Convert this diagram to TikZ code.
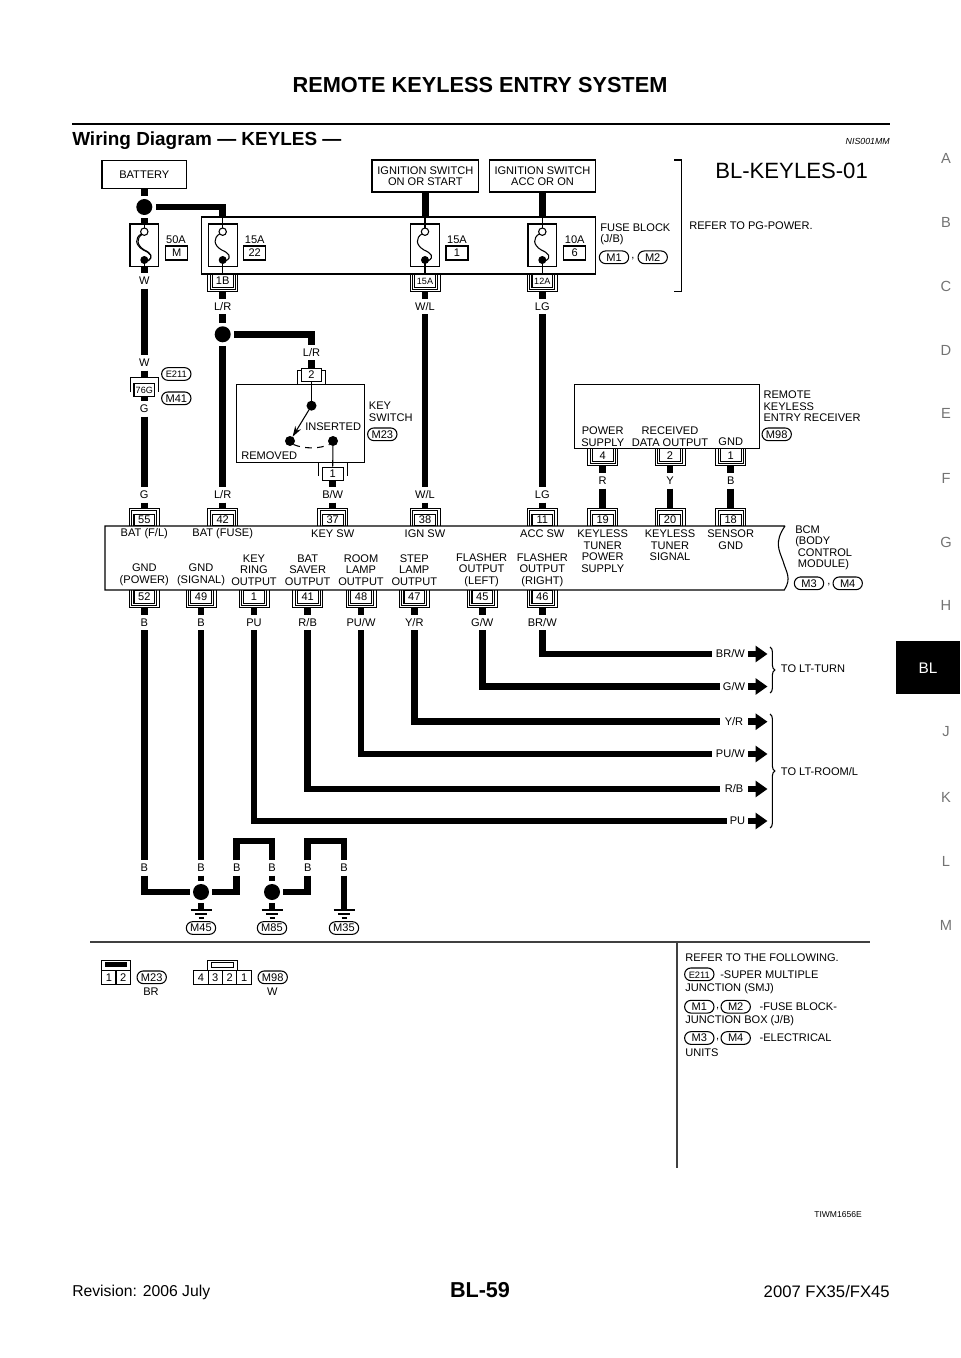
\documentclass[tikz,border=0pt]{standalone}
\usepackage{fontspec}
\setmainfont{Liberation Sans}
\usetikzlibrary{arrows.meta,decorations.pathreplacing}

\tikzset{
	txt/.style={font=\fontsize{8.3}{8.6}\selectfont,inner sep=0pt,align=center},
	ltxt/.style={txt,anchor=west,align=left},
	wlbl/.style={txt,minimum height=10.9pt,text height=5.9pt,text depth=0pt},
	boxed/.style={txt,draw,line width=0.8pt,text height=5.9pt,text depth=0pt},
	pinbox/.style={boxed,fill=white,minimum width=15.5pt},
	ampbox/.style={boxed,minimum width=16.5pt,minimum height=10.5pt},
	fusebox/.style={draw,line width=0.8pt,minimum width=21.5pt,minimum height=32.2pt,inner sep=0pt},
	harn/.style={boxed,rounded corners=4.7pt,minimum width=22pt,minimum height=9.5pt},
	brk/.style={line width=0.7pt},
	hair/.style={line width=0.8pt},
	wire/.style={line width=4.9pt},
	arr/.style={wire,-{Triangle[length=9pt,width=12pt]}},
	dot/.style={circle,fill=black,inner sep=0pt,minimum size=12pt,outer sep=2.6pt},
	swdot/.style={circle,fill=black,inner sep=0pt,minimum size=7.5pt,outer sep=0pt},
}

\def\topconn#1#2#3#4{
	\draw[brk,shift={(#2,#3)}] (-15,0) |- (15,-18) -- (15,0);
	\draw[brk,shift={(#2,#3)}] (-12.5,0) |- (12.5,-15.5) -- (12.5,0);
	\node[pinbox,anchor=south,minimum height=8.25pt] (#1) at (#2,#3) {#4};
	\coordinate (#1t) at (#2,#3-18);
}
\def\botconn#1#2#3#4{
	\draw[brk,shift={(#2,#3)}] (-15,0) |- (15,17.5) -- (15,0);
	\draw[brk,shift={(#2,#3)}] (-12.5,0) |- (12.5,15) -- (12.5,0);
	\node[pinbox,anchor=north,minimum height=9.75pt] (#1) at (#2,#3) {#4};
	\coordinate (#1b) at (#2,#3+17.5);
}
\def\swconn#1#2#3#4#5#6{
	\draw[brk] (#2-14.3,#5) |- (#2+14.3,#4) -- (#2+14.3,#5);
	\node[pinbox,anchor=north,minimum height=9.75pt] (#1) at (#2,#3) {#6};
}
\def\fuselink#1#2{
	\node[fusebox] (#1) at (#2,245.5) {};
	\draw[hair] (#2,224) -- (#2,228);
	\draw[hair] (#2,231.7) circle (3.7);
	\draw[hair] (#2,260) -- (#2,267);
	\fill (#2,260) circle (4);
	\draw[hair] (#2-3,233.8) .. controls (#2-9.5,238) and (#2-9.5,245) .. (#2-1,250) .. controls (#2+6,253) and (#2+10,257) .. (#2+3,261);
}
\def\earth#1#2{
	\coordinate (#1) at (#2,910);
	\draw[line width=1pt] (#2-10.5,910) -- (#2+10.5,910);
	\draw[line width=1pt] (#2-6,914) -- (#2+6,914);
	\draw[line width=1pt] (#2-2.5,918) -- (#2+2.5,918);
}
\def\wireend#1#2#3#4#5{
	\node[txt,text height=5.9pt,text depth=0pt,minimum width=#4*0.75pt] (#1) at (#2,#3) {#5};
	\coordinate (#1a) at (767.5,#3);
	\draw[arr] (#1.east) -- (#1a);
}

\begin{document}
\begin{tikzpicture}[x=0.75pt,y=-0.75pt]
		%%%%% START %%%%%
		\useasboundingbox (0,0) rectangle (960,1358);
		
		\node[inner sep=0pt,font=\bfseries\fontsize{16.3}{18}\selectfont] (pagehead) at (480,85) {REMOTE KEYLESS ENTRY SYSTEM};
		\draw[line width=2pt] (72,124) -- (890,124);
		\node[inner sep=0pt,anchor=west,font=\bfseries\fontsize{14.2}{16}\selectfont] (wdhead) at (72,141) {Wiring Diagram — KEYLES —};
		\node[inner sep=0pt,anchor=east,font=\itshape\fontsize{6.6}{8}\selectfont] (nishead) at (890,141) {NIS001MM};
		\node[inner sep=0pt,anchor=west,font=\fontsize{16.6}{18}\selectfont] (sheet) at (715,171) {BL-KEYLES-01};
		
		% side index
		\node[txt,font=\fontsize{11}{12}\selectfont,text=black!55] (tabA) at (946,158) {A};
		\node[txt,font=\fontsize{11}{12}\selectfont,text=black!55] (tabB) at (946,222) {B};
		\node[txt,font=\fontsize{11}{12}\selectfont,text=black!55] (tabC) at (946,286) {C};
		\node[txt,font=\fontsize{11}{12}\selectfont,text=black!55] (tabD) at (946,350) {D};
		\node[txt,font=\fontsize{11}{12}\selectfont,text=black!55] (tabE) at (946,413) {E};
		\node[txt,font=\fontsize{11}{12}\selectfont,text=black!55] (tabF) at (946,478) {F};
		\node[txt,font=\fontsize{11}{12}\selectfont,text=black!55] (tabG) at (946,542) {G};
		\node[txt,font=\fontsize{11}{12}\selectfont,text=black!55] (tabH) at (946,605) {H};
		\fill[black] (896,641) rectangle (960,694);
		\node[txt,font=\fontsize{11.5}{12}\selectfont,text=white] (tabBL) at (928,668) {BL};
		\node[txt,font=\fontsize{11}{12}\selectfont,text=black!55] (tabJ) at (946,732) {J};
		\node[txt,font=\fontsize{11}{12}\selectfont,text=black!55] (tabK) at (946,797) {K};
		\node[txt,font=\fontsize{11}{12}\selectfont,text=black!55] (tabL) at (946,861) {L};
		\node[txt,font=\fontsize{11}{12}\selectfont,text=black!55] (tabM) at (946,925) {M};
		
		% supplies
		\node[boxed,minimum width=63.5pt,minimum height=21.5pt] (battery) at (144.3,174.5) {BATTERY};
		\node[boxed,minimum width=80pt,minimum height=24pt,text height=,text depth=] (ignA) at (425.3,176) {IGNITION SWITCH\\ON OR START};
		\node[boxed,minimum width=80pt,minimum height=24pt,text height=,text depth=] (ignB) at (542.5,176) {IGNITION SWITCH\\ACC OR ON};
		
		% fuse block
		\node[draw,line width=0.8pt,minimum width=296pt,minimum height=42.75pt,inner sep=0pt] (fuseblk) at (398.5,245.5) {};
		\fuselink{fuseM}{144.3}
		\draw[hair] (142.3,234.3) .. controls (136.3,238) and (136.3,245) .. (144.3,250) .. controls (151.3,253) and (153.3,257) .. (148.3,261);
		\fuselink{fuse22}{222.7}
		\fuselink{fuse1}{425}
		\fuselink{fuse6}{542.3}
		\node[txt] (amp50) at (176,239.3) {50A};
		\node[ampbox] (ampM) at (176.7,253) {M};
		\node[txt] (amp15a) at (254.7,239.3) {15A};
		\node[ampbox] (amp22) at (254.7,253) {22};
		\node[txt] (amp15b) at (457,239.3) {15A};
		\node[ampbox] (amp1) at (457,253) {1};
		\node[txt] (amp10) at (574.7,239.3) {10A};
		\node[ampbox] (amp6) at (574.7,253) {6};
		\botconn{c1B}{222.7}{274}{1B}
		\botconn{c15A}{425}{274}{\fontsize{6.8}{7}\selectfont 15A}
		\botconn{c12A}{542.3}{274}{\fontsize{6.8}{7}\selectfont 12A}
		\draw[hair] (fuseblk.north -| fuse22) -- (fuse22.north);
		\draw[hair] (fuse22.south) -- (fuse22.south |- fuseblk.south);
		\draw[hair] (fuseblk.north -| fuse1) -- (fuse1.north);
		\draw[hair] (fuse1.south) -- (fuse1.south |- fuseblk.south);
		\draw[hair] (fuseblk.north -| fuse6) -- (fuse6.north);
		\draw[hair] (fuse6.south) -- (fuse6.south |- fuseblk.south);
		
		\node[ltxt] (fbname) at (600,234.2) {FUSE BLOCK\\(J/B)};
		\node[harn] (hM1a) at (614,257.3) {M1};
		\node[txt] (cmA) at (633,259) {,};
		\node[harn] (hM2a) at (652.7,257.3) {M2};
		\draw[line width=1pt] (674,160) -- (681.3,160) -- (681.3,291.7) -- (674,291.7);
		\node[ltxt] (refpg) at (689,225.7) {REFER TO PG-POWER.};
		
		% key switch
		\node[draw,line width=0.8pt,minimum width=96pt,minimum height=58.7pt,inner sep=0pt] (keysw) at (300.8,423.2) {};
		\swconn{c2}{311.5}{368}{370}{384}{2}
		\swconn{c1}{332.7}{466.7}{462.3}{476}{1}
		\node[swdot] (swA) at (311.5,405.7) {};
		\node[swdot] (swB) at (290,441) {};
		\node[swdot] (swC) at (333,441) {};
		\draw[hair] (c2.south) -- (swA);
		\draw[hair] (swC) -- (c1.north);
		\draw[hair,-{Stealth[length=8pt,width=5pt]}] (swA) -- (swB);
		\draw[hair,dash pattern=on 5pt off 4pt] (swB.south east) .. controls (304,449) and (319,449) .. (swC.south west);
		\node[ltxt] (swin) at (305,427) {INSERTED};
		\node[ltxt] (swrem) at (241,455.7) {REMOVED};
		\node[ltxt] (swname) at (368.7,411.7) {KEY\\SWITCH};
		\node[harn] (hM23) at (382.3,434.3) {M23};
		
		% receiver
		\node[draw,line width=0.8pt,minimum width=138.7pt,minimum height=48.2pt,inner sep=0pt] (recv) at (666.8,416.2) {};
		\node[txt] (rxA) at (602.7,436.5) {POWER\\SUPPLY};
		\node[txt] (rxB) at (670,436.5) {RECEIVED\\DATA OUTPUT};
		\node[txt] (rxC) at (730.7,442) {GND};
		\node[ltxt] (rxname) at (763.3,406.5) {REMOTE\\KEYLESS\\ENTRY RECEIVER};
		\node[harn] (hM98) at (776.7,434.3) {M98};
		\botconn{c4}{602.7}{448.3}{4}
		\botconn{c2r}{670}{448.3}{2}
		\botconn{c1r}{730.7}{448.3}{1}
		
		% bcm
		\draw[line width=0.8pt] (785,526) -- (105,526) -- (105,590) -- (784.3,590) .. controls (792,578) and (786,572) .. (783,561) .. controls (779,550) and (774,542) .. (785,526);
		\topconn{c55}{144.3}{526}{55}
		\topconn{c42}{222.7}{526}{42}
		\topconn{c37}{332.7}{526}{37}
		\topconn{c38}{425}{526}{38}
		\topconn{c11}{542.3}{526}{11}
		\topconn{c19}{602.7}{526}{19}
		\topconn{c20}{670}{526}{20}
		\topconn{c18}{730.7}{526}{18}
		\botconn{c52}{144.3}{590}{52}
		\botconn{c49}{201}{590}{49}
		\botconn{c1k}{254}{590}{1}
		\botconn{c41}{307.7}{590}{41}
		\botconn{c48}{361}{590}{48}
		\botconn{c47}{414.3}{590}{47}
		\botconn{c45}{482.3}{590}{45}
		\botconn{c46}{542.3}{590}{46}
		
		\node[txt] (bA) at (144.3,534) {BAT (F/L)};
		\node[txt] (bB) at (222.7,534) {BAT (FUSE)};
		\node[txt] (bC) at (332.7,534) {KEY SW};
		\node[txt] (bD) at (425,534) {IGN SW};
		\node[txt] (bE) at (542.3,534) {ACC SW};
		\node[txt] (bF) at (602.7,551) {KEYLESS\\TUNER\\POWER\\SUPPLY};
		\node[txt] (bG) at (670,545.5) {KEYLESS\\TUNER\\SIGNAL};
		\node[txt] (bH) at (730.7,539.5) {SENSOR\\GND};
		\node[txt] (bI) at (144.3,575) {GND\\(POWER)};
		\node[txt] (bJ) at (201,575) {GND\\(SIGNAL)};
		\node[txt] (bK) at (254,570) {KEY\\RING\\OUTPUT};
		\node[txt] (bL) at (307.7,570) {BAT\\SAVER\\OUTPUT};
		\node[txt] (bM) at (361,570) {ROOM\\LAMP\\OUTPUT};
		\node[txt] (bN) at (414.3,570) {STEP\\LAMP\\OUTPUT};
		\node[txt] (bO) at (481.7,570) {FLASHER\\OUTPUT\\(LEFT)};
		\node[txt] (bP) at (542.3,570) {FLASHER\\OUTPUT\\(RIGHT)};
		\node[ltxt] (bname) at (795,548) {BCM\\(BODY\\\hspace*{2pt}CONTROL\\\hspace*{2pt}MODULE)};
		\node[harn] (hM3a) at (809,583.3) {M3};
		\node[txt] (cmB) at (829,585) {,};
		\node[harn] (hM4a) at (847.7,583.3) {M4};
		
		% supply wires
		\node[dot] (dotA) at (144.3,207) {};
		\node[wlbl] (wW1) at (144.3,281) {W};
		\node[wlbl] (wW2) at (144.3,363) {W};
		\swconn{c76}{144.3}{382.7}{377.3}{392}{\fontsize{6.8}{7}\selectfont 76G}
		\node[harn,font=\fontsize{7}{8}\selectfont] (hE211) at (176.3,374) {E211};
		\node[harn] (hM41) at (176.3,398.3) {M41};
		\node[wlbl] (wG1) at (144.3,409) {G};
		\node[wlbl] (wG2) at (144.3,495) {G};
		\draw[wire] (battery.south) -- (dotA.north);
		\draw[wire] (dotA.south) -- (fuseM.north);
		\draw[wire] (fuseM.south) -- (wW1.north);
		\draw[wire] (wW1.south) -- (wW2.north);
		\draw[wire] (wW2.south) -- (c76 |- 0,377.3);
		\draw[wire] (c76.south) -- (wG1.north);
		\draw[wire] (wG1.south) -- (wG2.north);
		\draw[wire] (wG2.south) -- (c55t);
		
		\node[wlbl] (wLR1) at (222.7,306.7) {L/R};
		\node[dot] (dotB) at (222.7,334.3) {};
		\node[wlbl] (wLR2) at (311.5,352.5) {L/R};
		\node[wlbl] (wLR3) at (222.7,495) {L/R};
		\draw[wire] (dotA.east) -| (fuseblk.north -| fuse22);
		\draw[wire] (c1Bb) -- (wLR1.north);
		\draw[wire] (wLR1.south) -- (dotB.north);
		\draw[wire] (dotB.east) -| (wLR2.north);
		\draw[wire] (wLR2.south) -- (c2.north);
		\draw[wire] (dotB.south) -- (wLR3.north);
		\draw[wire] (wLR3.south) -- (c42t);
		
		\node[wlbl] (wBW) at (332.7,495) {B/W};
		\draw[wire] (c1.south) -- (wBW.north);
		\draw[wire] (wBW.south) -- (c37t);
		
		\node[wlbl] (wWL1) at (425,306.7) {W/L};
		\node[wlbl] (wWL2) at (425,495) {W/L};
		\draw[wire] (ignA.south) -- (fuseblk.north -| ignA);
		\draw[wire] (c15Ab) -- (wWL1.north);
		\draw[wire] (wWL1.south) -- (wWL2.north);
		\draw[wire] (wWL2.south) -- (c38t);
		
		\node[wlbl] (wLG1) at (542.3,306.7) {LG};
		\node[wlbl] (wLG2) at (542.3,495) {LG};
		\draw[wire] (ignB.south) -- (fuseblk.north -| ignB);
		\draw[wire] (c12Ab) -- (wLG1.north);
		\draw[wire] (wLG1.south) -- (wLG2.north);
		\draw[wire] (wLG2.south) -- (c11t);
		
		\node[wlbl] (wR) at (602.7,481) {R};
		\node[wlbl] (wY) at (670,481) {Y};
		\node[wlbl] (wB) at (730.7,481) {B};
		\draw[wire] (c4b) -- (wR.north);
		\draw[wire] (wR.south) -- (c19t);
		\draw[wire] (c2rb) -- (wY.north);
		\draw[wire] (wY.south) -- (c20t);
		\draw[wire] (c1rb) -- (wB.north);
		\draw[wire] (wB.south) -- (c18t);
		
		% outputs
		\node[wlbl] (wB52) at (144.3,622.7) {B};
		\node[wlbl] (wB49) at (201,622.7) {B};
		\node[wlbl] (wPU) at (254,622.7) {PU};
		\node[wlbl] (wRB) at (307.7,622.7) {R/B};
		\node[wlbl] (wPUW) at (361,622.7) {PU/W};
		\node[wlbl] (wYR) at (414.3,622.7) {Y/R};
		\node[wlbl] (wGW) at (482.3,622.7) {G/W};
		\node[wlbl] (wBRW) at (542.3,622.7) {BR/W};
		\draw[wire] (c52b) -- (wB52.north);
		\draw[wire] (c49b) -- (wB49.north);
		\draw[wire] (c1kb) -- (wPU.north);
		\draw[wire] (c41b) -- (wRB.north);
		\draw[wire] (c48b) -- (wPUW.north);
		\draw[wire] (c47b) -- (wYR.north);
		\draw[wire] (c45b) -- (wGW.north);
		\draw[wire] (c46b) -- (wBRW.north);
		
		\wireend{eBRW}{730.4}{654}{35.3}{BR/W}
		\wireend{eGW}{734}{686.5}{28}{G/W}
		\wireend{eYR}{734}{721.7}{28}{Y/R}
		\wireend{ePUW}{730.4}{754}{35.3}{PU/W}
		\wireend{eRB}{734}{789}{28}{R/B}
		\wireend{ePU}{737.5}{821}{21}{PU}
		\draw[wire] (wBRW.south) |- (eBRW.west);
		\draw[wire] (wGW.south) |- (eGW.west);
		\draw[wire] (wYR.south) |- (eYR.west);
		\draw[wire] (wPUW.south) |- (ePUW.west);
		\draw[wire] (wRB.south) |- (eRB.west);
		\draw[wire] (wPU.south) |- (ePU.west);
		
		\draw[hair,decorate,decoration={brace,amplitude=3.6pt}] (770,647) -- (770,693);
		\draw[hair,decorate,decoration={brace,amplitude=3.6pt}] (770,714) -- (770,828);
		\node[ltxt] (toturn) at (780.7,669) {TO LT-TURN};
		\node[ltxt] (toroom) at (780.7,772) {TO LT-ROOM/L};
		
		% grounds
		\node[wlbl] (gB1) at (144.3,868) {B};
		\node[wlbl] (gB2) at (201,868) {B};
		\node[wlbl] (gB3) at (236.7,868) {B};
		\node[wlbl] (gB4) at (272,868) {B};
		\node[wlbl] (gB5) at (307.7,868) {B};
		\node[wlbl] (gB6) at (344,868) {B};
		\node[dot] (dotC) at (201,892) {};
		\node[dot] (dotD) at (272,892) {};
		\earth{eM45}{201}
		\earth{eM85}{272}
		\earth{eM35}{344}
		\node[harn] (hM45) at (201,928) {M45};
		\node[harn] (hM85) at (272,928) {M85};
		\node[harn] (hM35) at (344,928) {M35};
		\draw[wire] (wB52.south) -- (gB1.north);
		\draw[wire] (wB49.south) -- (gB2.north);
		\draw[wire] (gB1.south) |- (dotC.west);
		\draw[wire] (gB2.south) -- (dotC.north);
		\draw[wire] (gB3.south) |- (dotC.east);
		\draw[wire] (gB3.north) |- (254,841) -| (gB4.north);
		\draw[wire] (gB4.south) -- (dotD.north);
		\draw[wire] (gB5.south) |- (dotD.east);
		\draw[wire] (gB5.north) |- (326,841) -| (gB6.north);
		\draw[wire] (gB6.south) -- (eM35);
		\draw[wire] (dotC.south) -- (eM45);
		\draw[wire] (dotD.south) -- (eM85);
		
		\draw[line width=1pt,color=black!75] (90,942) -- (870,942);
		\draw[line width=1pt,color=black!75] (677,942) -- (677,1168);
		
		% connector views
		\draw[brk] (101.7,960) rectangle (130.3,970.7);
		\fill (104.7,962) rectangle (127.3,967);
		\node[boxed,minimum width=10.7pt,minimum height=10.2pt] (vA1) at (108.9,977.5) {1};
		\node[boxed,minimum width=10.7pt,minimum height=10.2pt] (vA2) at (123.1,977.5) {2};
		\node[harn] (vM23) at (151.7,977.3) {M23};
		\node[txt] (vBR) at (151,992) {BR};
		\draw[brk] (207.7,960) rectangle (237,970.7);
		\draw[brk] (211,962.7) rectangle (233.7,967);
		\node[boxed,minimum width=10.8pt,minimum height=10.2pt] (vB4) at (200.9,977.5) {4};
		\node[boxed,minimum width=10.8pt,minimum height=10.2pt] (vB3) at (215.3,977.5) {3};
		\node[boxed,minimum width=10.8pt,minimum height=10.2pt] (vB2) at (229.7,977.5) {2};
		\node[boxed,minimum width=10.8pt,minimum height=10.2pt] (vB1) at (244.1,977.5) {1};
		\node[harn] (vM98) at (272.7,977.3) {M98};
		\node[txt] (vW) at (272.3,992) {W};
		
		% notes
		\node[ltxt] (nA) at (685,957.3) {REFER TO THE FOLLOWING.};
		\node[harn,font=\fontsize{7}{8}\selectfont] (nE211) at (699.3,974.3) {E211};
		\node[ltxt] (nB) at (720,974.3) {-SUPER MULTIPLE};
		\node[ltxt] (nC) at (685,989) {JUNCTION (SMJ)};
		\node[harn] (nM1) at (699.3,1006.7) {M1};
		\node[txt] (nD) at (717.7,1008.5) {,};
		\node[harn] (nM2) at (735.7,1006.7) {M2};
		\node[ltxt] (nE) at (759.3,1006.7) {-FUSE BLOCK-};
		\node[ltxt] (nF) at (685,1021) {JUNCTION BOX (J/B)};
		\node[harn] (nM3) at (699.3,1038) {M3};
		\node[txt] (nG) at (717.7,1039.8) {,};
		\node[harn] (nM4) at (735.7,1038) {M4};
		\node[ltxt] (nH) at (759.3,1038) {-ELECTRICAL};
		\node[ltxt] (nI) at (685,1052.7) {UNITS};
		
		\node[inner sep=0pt,font=\fontsize{6.4}{8}\selectfont] (figid) at (838,1215) {TIWM1656E};
		
		\node[inner sep=0pt,anchor=west,font=\fontsize{11.8}{14}\selectfont] (footA) at (72,1292) {Revision: 2006 July};
		\node[inner sep=0pt,font=\bfseries\fontsize{16.2}{18}\selectfont] (footB) at (480,1290) {BL-59};
		\node[inner sep=0pt,anchor=east,font=\fontsize{12.5}{14}\selectfont] (footC) at (890,1292) {2007 FX35/FX45};
		
		%%%%% END %%%%%
	\end{tikzpicture}
\end{document}
